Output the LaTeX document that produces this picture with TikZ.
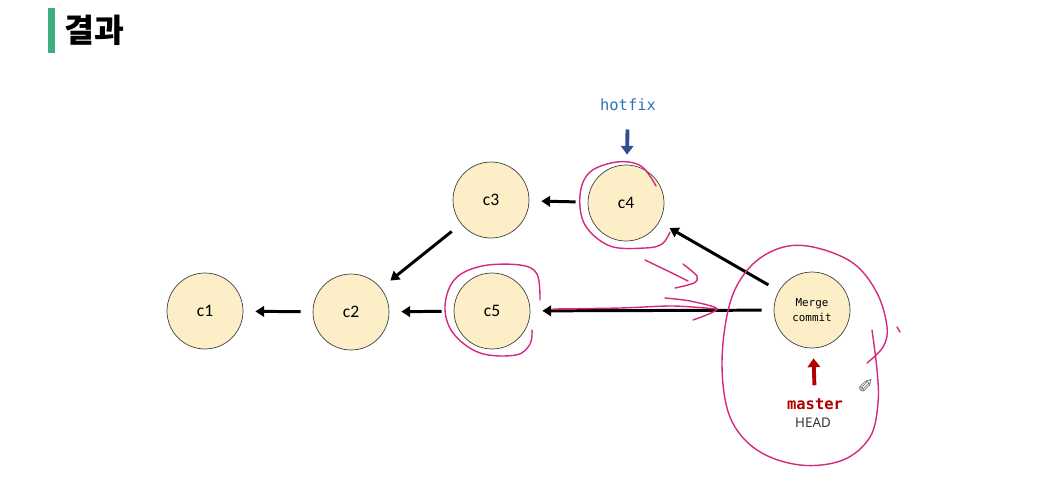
\documentclass[tikz,border=0pt]{standalone}
\usepackage{fontspec}
\setmainfont{Carlito}
\newfontfamily\monofont{DejaVu Sans Mono}
\newfontfamily\headfont{Noto Sans}
\newfontfamily\symfont{DejaVu Sans}
\newfontfamily\krfont{Noto Sans CJK KR}
\usepackage{tikz}
\usetikzlibrary{calc, positioning, arrows.meta}
\usepackage{xcolor}
\definecolor{commitfill}{HTML}{FCEFC8}
\definecolor{barGreen}{HTML}{3DAF7F}
\definecolor{hotfixblue}{HTML}{2E75B6}
\definecolor{pointerblue}{HTML}{2F4F8F}
\definecolor{masterred}{HTML}{B00000}
\definecolor{penpink}{HTML}{D42A7E}

\begin{document}
\begin{tikzpicture}[x=0.02cm, y=-0.02cm,
    commit/.style={circle, draw=black!75, fill=commitfill, minimum size=1.52cm, inner sep=0pt, font=\fontsize{10}{11}\selectfont},
    parent/.style={-{Triangle[length=5pt,width=6pt]}, line width=1.7pt, shorten >=0.24cm, shorten <=0.24cm},
    pointer/.style={-{Triangle[length=5pt,width=7pt]}, line width=2.2pt},
    pen/.style={penpink, line width=0.8pt, line cap=round, line join=round}]
    \useasboundingbox (0,0) rectangle (1057,484);
    % Title
    \fill[barGreen] (48,8) rectangle (55,53);
    \node[anchor=west, inner sep=0pt] (title) at (64,30) {\krfont\bfseries\fontsize{18.5}{21}\selectfont 결과};
    % Commits
    \node[commit] (c1) at (205,311) {c1};
    \node[commit] (c2) at (351,312) {c2};
    \node[commit] (c3) at (491,200) {c3};
    \node[commit] (c4) at (626,203) {c4};
    \node[commit] (c5) at (492,311) {c5};
    \node[commit, align=center, font=\monofont\fontsize{6.2}{8.5}\selectfont] (merge) at (812,310) {Merge\\commit};
    % Parent links
    \draw[parent] (c2) -- (c1);
    \draw[parent] (c5) -- (c2);
    \draw[parent] (c3) -- (c2);
    \draw[parent] (c4) -- (c3);
    \draw[parent] (merge) -- (c4);
    \draw[parent] (merge) -- (c5);
    % Branch pointers
    \node[text=hotfixblue, font=\monofont\fontsize{8.8}{10}\selectfont] (hotfix) at (628,105) {hotfix};
    \draw[pointer, pointerblue, shorten <=7pt, shorten >=0.2cm] (hotfix) -- (c4);
    \node[text=masterred, font=\monofont\bfseries\fontsize{8.8}{10}\selectfont] (master) at (815,404) {master};
    \node[text=black!80, font=\headfont\fontsize{7.6}{9}\selectfont] (head) at (813,423) {HEAD};
    \draw[pointer, masterred, shorten <=4pt, shorten >=0.2cm] (master) -- (merge);
    % Pen marks
    \draw[pen] plot[smooth, tension=0.6] coordinates {(656,186) (641,166) (617,162) (590,172) (580,195) (585,225) (610,246) (645,248) (662,244) (670,232)};
    \draw[pen] plot[smooth, tension=0.6] coordinates {(540,300) (537,274) (520,265) (482,266) (455,279) (445,306) (453,333) (480,353) (516,355) (530,344) (532,330)};
    \draw[pen] plot[smooth] coordinates {(645,260) (672,273) (688,281)};
    \draw[pen] plot[smooth] coordinates {(683,264) (697,276) (694,283) (675,288)};
    \draw[pen] plot[smooth] coordinates {(553,309) (620,308) (673,306) (717,309)};
    \draw[pen] plot[smooth] coordinates {(665,298) (690,301) (717,309) (693,320)};
    \draw[pen] plot[smooth, tension=0.6] coordinates {(867,363) (883,347) (887,327) (877,293) (853,263) (813,247) (780,248) (750,267) (730,303) (722,363) (730,417) (757,450) (800,465) (843,460) (870,437) (878,403) (877,370) (872,330)};
    \draw[pen] (897,327) -- (900,332);
    % Pen cursor
    \node[text=black!60, rotate=90, font=\symfont\fontsize{11}{11}\selectfont, inner sep=0pt] (cursor) at (867,385) {✎};
\end{tikzpicture}
\end{document}
